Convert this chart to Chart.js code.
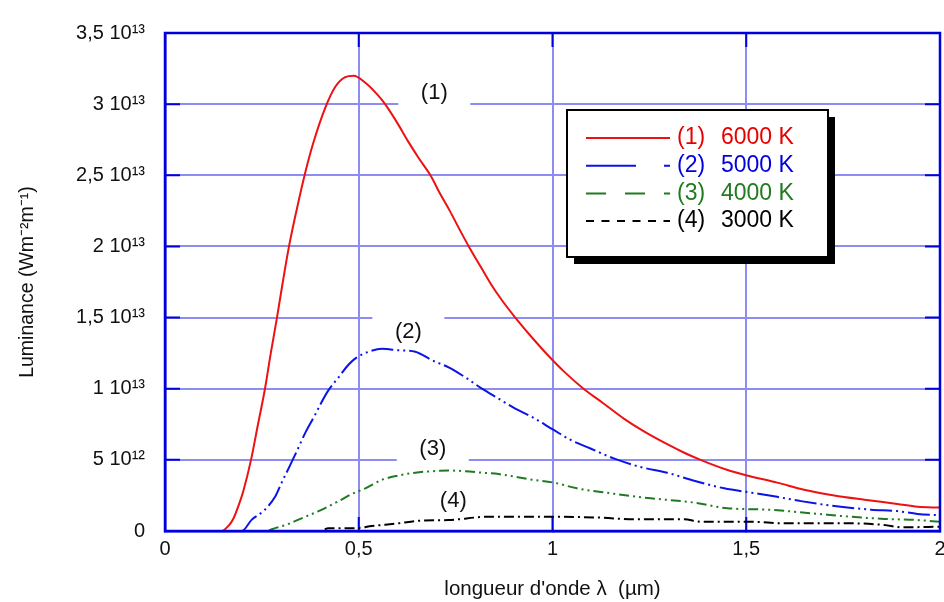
<!DOCTYPE html>
<html lang="fr">
<head>
<meta charset="utf-8">
<title>Luminance du corps noir</title>
<script src="https://cdn.jsdelivr.net/npm/chart.js@4.4.1/dist/chart.umd.min.js"></script>
<style>
  html, body { margin: 0; padding: 0; background: #fff; }
  #wrap { width: 944px; height: 602px; }
</style>
</head>
<body>
<div id="wrap"><canvas id="corpsNoirChart" width="944" height="602"></canvas></div>
<script>
// --- Données (lambda en µm, luminance en 10^12 W m^-2 m^-1) ---

const lambda6000 = [0, 0.146, 0.165, 0.177, 0.190, 0.202, 0.222, 0.240, 0.258, 0.273, 0.289, 0.304, 0.320, 0.340, 0.362, 0.383, 0.413, 0.439, 0.465, 0.487, 0.517, 0.547, 0.568, 0.599, 0.627, 0.655, 0.685, 0.710, 0.735, 0.760, 0.784, 0.814, 0.840, 0.870, 0.904, 0.947, 0.990, 1.030, 1.080, 1.130, 1.184, 1.236, 1.296, 1.340, 1.382, 1.450, 1.502, 1.580, 1.649, 1.727, 1.805, 1.890, 1.942, 2.0];
const lum6000 = [0, 0, 0.4, 0.9, 1.8, 2.8, 5.0, 7.5, 10.0, 12.5, 15.0, 17.5, 20.0, 22.6, 25.2, 27.3, 29.7, 31.2, 31.9, 32.0, 31.5, 30.7, 30.0, 28.7, 27.4, 26.2, 25.0, 23.7, 22.5, 21.2, 20.0, 18.6, 17.4, 16.2, 15.0, 13.6, 12.3, 11.2, 10.0, 9.0, 7.9, 7.0, 6.1, 5.5, 5.0, 4.3, 3.9, 3.4, 2.9, 2.5, 2.2, 1.9, 1.7, 1.65];

const lambda5000 = [0, 0.198, 0.224, 0.254, 0.284, 0.301, 0.319, 0.340, 0.362, 0.388, 0.401, 0.422, 0.448, 0.474, 0.495, 0.526, 0.560, 0.603, 0.646, 0.689, 0.732, 0.775, 0.818, 0.861, 0.904, 0.948, 1.003, 1.047, 1.098, 1.158, 1.227, 1.296, 1.357, 1.443, 1.512, 1.580, 1.641, 1.744, 1.822, 1.890, 1.942, 2.0];
const lum5000 = [0, 0, 0.8, 1.4, 2.4, 3.4, 4.4, 5.6, 6.9, 8.2, 8.9, 9.9, 10.8, 11.7, 12.2, 12.6, 12.8, 12.7, 12.6, 12.0, 11.5, 10.8, 10.0, 9.3, 8.6, 8.0, 7.1, 6.4, 5.8, 5.1, 4.5, 4.1, 3.6, 3.0, 2.7, 2.4, 2.1, 1.7, 1.5, 1.4, 1.2, 1.1];

const lambda4000 = [0, 0.258, 0.284, 0.319, 0.362, 0.405, 0.448, 0.482, 0.517, 0.560, 0.603, 0.646, 0.689, 0.732, 0.775, 0.818, 0.861, 0.948, 1.003, 1.063, 1.150, 1.253, 1.365, 1.451, 1.554, 1.667, 1.770, 1.856, 1.942, 2.0];
const lum4000 = [0, 0, 0.2, 0.5, 1.0, 1.5, 2.1, 2.6, 3.0, 3.6, 3.9, 4.1, 4.2, 4.25, 4.2, 4.1, 4.0, 3.6, 3.4, 3.0, 2.65, 2.3, 2.0, 1.6, 1.5, 1.25, 1.0, 0.85, 0.77, 0.65];

const lambda3000 = [0, 0.40, 0.422, 0.491, 0.534, 0.603, 0.655, 0.732, 0.835, 1.003, 1.124, 1.21, 1.34, 1.382, 1.512, 1.598, 1.77, 1.856, 1.899, 2.0];
const lum3000 = [0, 0, 0.2, 0.2, 0.35, 0.54, 0.72, 0.77, 1.0, 1.0, 0.94, 0.82, 0.82, 0.65, 0.65, 0.54, 0.54, 0.42, 0.26, 0.3];

const seriesNames = ['(1) 6000 K', '(2) 5000 K', '(3) 4000 K', '(4) 3000 K'];
const curveTags = ['(1)', '(2)', '(3)', '(4)'];

const xTickLabels = ['0', '0,5', '1', '1,5', '2'];
const yTickLabels = ['0', '5 10¹²', '1 10¹³', '1,5 10¹³', '2 10¹³', '2,5 10¹³', '3 10¹³', '3,5 10¹³'];

// --- Construction des séries ---

function toPoints(lambdas, lums) {
    return lambdas.map((l, i) => ({ x: l, y: lums[i] * 1e12 }));
}

const FONT = '"Liberation Sans", Arial, sans-serif';
const colors = ['#ee1111', '#0a14e6', '#1f7a22', '#000000'];
const textColors = ['#e80000', '#0000e0', '#1e7b1e', '#000000'];
const dashes = [[], [22, 4, 2, 4, 2, 4], [10, 4, 2, 4, 2, 4], [10, 4, 2, 4]];
const legendDashes = [[], [50, 28, 6, 100], [20, 19], [8, 7.5]];

const allData = [
    toPoints(lambda6000, lum6000),
    toPoints(lambda5000, lum5000),
    toPoints(lambda4000, lum4000),
    toPoints(lambda3000, lum3000)
];

const datasets = allData.map((pts, i) => ({
    label: seriesNames[i],
    data: pts,
    borderColor: colors[i],
    borderWidth: 2,
    borderDash: dashes[i],
    pointRadius: 0,
    fill: false,
    cubicInterpolationMode: 'monotone'
}));

// --- Plugin : graduations intérieures, étiquettes des courbes, cadre et légende ---

const decorPlugin = {
    id: 'decor',
    beforeDatasetsDraw(chart) {
        const { ctx, chartArea: a, scales: { x, y } } = chart;
        ctx.save();
        ctx.strokeStyle = '#0000dd';
        ctx.lineWidth = 2;
        ctx.beginPath();
        y.ticks.forEach(t => {
            const py = y.getPixelForValue(t.value);
            ctx.moveTo(a.left, py); ctx.lineTo(a.left + 15, py);
            ctx.moveTo(a.right - 15, py); ctx.lineTo(a.right, py);
        });
        x.ticks.forEach(t => {
            const px = x.getPixelForValue(t.value);
            ctx.moveTo(px, a.bottom); ctx.lineTo(px, a.bottom - 14);
            ctx.moveTo(px, a.top); ctx.lineTo(px, a.top + 14);
        });
        ctx.stroke();

        // étiquettes (1) à (4) avec fond blanc
        const tagPos = [[0.695, 30.8e12], [0.628, 14.0e12], [0.691, 5.76e12], [0.744, 2.14e12]];
        ctx.font = '22px ' + FONT;
        ctx.textAlign = 'center';
        ctx.textBaseline = 'middle';
        tagPos.forEach((p, i) => {
            const px = x.getPixelForValue(p[0]);
            const py = y.getPixelForValue(p[1]);
            ctx.fillStyle = '#ffffff';
            ctx.fillRect(px - 36, py - 16, 72, 33);
            ctx.fillStyle = '#111';
            ctx.fillText(curveTags[i], px, py);
        });
        ctx.restore();
    },
    afterDraw(chart) {
        const { ctx, chartArea: a } = chart;
        ctx.save();
        // cadre bleu
        ctx.strokeStyle = '#0000dd';
        ctx.lineWidth = 2.5;
        ctx.strokeRect(a.left, a.top, a.right - a.left, a.bottom - a.top);

        // légende avec ombre portée
        const bx = 567, by = 110, bw = 261, bh = 147;
        ctx.fillStyle = '#000';
        ctx.fillRect(bx + 7, by + 7, bw, bh);
        ctx.fillStyle = '#fff';
        ctx.fillRect(bx, by, bw, bh);
        ctx.strokeStyle = '#000';
        ctx.lineWidth = 2;
        ctx.strokeRect(bx, by, bw, bh);

        ctx.font = '23px ' + FONT;
        ctx.textBaseline = 'middle';
        ctx.textAlign = 'left';
        seriesNames.forEach((name, i) => {
            const ry = 138 + i * 27.7;
            ctx.strokeStyle = colors[i];
            ctx.lineWidth = 2;
            ctx.setLineDash(legendDashes[i]);
            ctx.beginPath();
            ctx.moveTo(586, ry);
            ctx.lineTo(670, ry);
            ctx.stroke();
            ctx.setLineDash([]);
            const parts = name.split(' ');
            ctx.fillStyle = textColors[i];
            ctx.fillText(parts[0], 677, ry);
            ctx.fillText(parts.slice(1).join(' '), 721, ry);
        });
        ctx.restore();
    }
};

// --- Graphique ---

const ctx = document.getElementById('corpsNoirChart').getContext('2d');
new Chart(ctx, {
    type: 'line',
    data: { datasets: datasets },
    plugins: [decorPlugin],
    options: {
        responsive: false,
        animation: false,
        devicePixelRatio: 1,
        layout: { padding: { top: 33, right: 4, bottom: 0, left: 0 } },
        plugins: {
            legend: { display: false },
            tooltip: { enabled: false }
        },
        scales: {
            x: {
                type: 'linear',
                min: 0,
                max: 2,
                ticks: {
                    stepSize: 0.5,
                    padding: 6,
                    color: '#111',
                    font: { family: FONT, size: 20 },
                    maxRotation: 0,
                    callback: (v, i) => xTickLabels[i]
                },
                grid: { color: '#8c8cf2', lineWidth: 2, tickLength: 0 },
                border: { color: '#0000dd', width: 2.5 },
                title: {
                    display: true,
                    text: 'longueur d\'onde λ  (µm)',
                    color: '#111',
                    font: { family: FONT, size: 20.5 },
                    padding: { top: 0, bottom: 0 }
                },
                afterFit(scale) {
                    scale.height = 71;
                    scale.paddingLeft = 0;
                    scale.paddingRight = 0;
                }
            },
            y: {
                type: 'linear',
                min: 0,
                max: 3.5e13,
                ticks: {
                    stepSize: 5e12,
                    padding: 20,
                    color: '#111',
                    font: { family: FONT, size: 20 },
                    callback: (v, i) => yTickLabels[i]
                },
                grid: { color: '#8c8cf2', lineWidth: 2, tickLength: 0 },
                border: { color: '#0000dd', width: 2.5 },
                title: {
                    display: true,
                    text: 'Luminance (Wm⁻²m⁻¹)',
                    color: '#111',
                    font: { family: FONT, size: 19.5 },
                    padding: { top: 16, bottom: 0 }
                },
                afterFit(scale) {
                    scale.width = 165;
                }
            }
        }
    }
});
</script>
</body>
</html>
